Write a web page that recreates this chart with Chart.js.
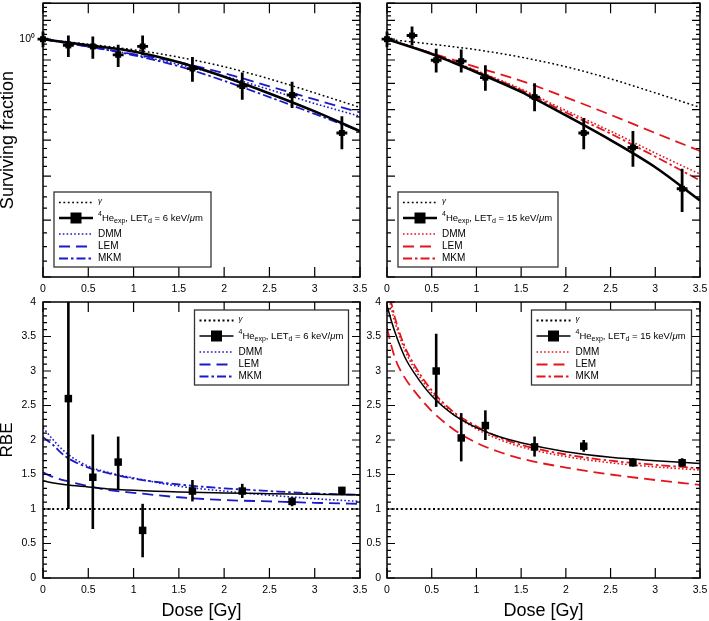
<!DOCTYPE html>
<html>
<head>
<meta charset="utf-8">
<script src="https://cdn.jsdelivr.net/npm/chart.js@4.4.1/dist/chart.umd.min.js"></script>
<style>
  html, body { margin: 0; padding: 0; background: #fff; }
  #wrap { position: relative; width: 709px; height: 621px; overflow: hidden; }
  canvas { position: absolute; }
</style>
</head>
<body>
<div id="wrap">
  <canvas id="sf6" width="372" height="300" style="left:0;top:-1px"></canvas>
  <canvas id="sf15" width="344" height="300" style="left:365px;top:-1px"></canvas>
  <canvas id="rbe6" width="372" height="331" style="left:0;top:290px"></canvas>
  <canvas id="rbe15" width="344" height="331" style="left:365px;top:290px"></canvas>
</div>
<script>
// ---- measured survival (top panels) ----
const doseExp = [0, 0.28, 0.55, 0.83, 1.1, 1.65, 2.2, 2.75, 3.3];
const doseErr = [0.06, 0.06, 0.06, 0.06, 0.06, 0.06, 0.06, 0.06, 0.06];
const sfExp6 = [1.0, 0.969, 0.964, 0.924, 0.964, 0.862, 0.789, 0.754, 0.622];
const sfLo6 = [0.96, 0.914, 0.906, 0.869, 0.922, 0.806, 0.736, 0.706, 0.573];
const sfHi6 = [1.04, 1.019, 1.014, 0.972, 1.019, 0.914, 0.845, 0.806, 0.677];
const sfExp15 = [1.0, 1.019, 0.899, 0.895, 0.823, 0.746, 0.622, 0.578, 0.469];
const sfLo15 = [0.96, 0.969, 0.845, 0.845, 0.770, 0.694, 0.573, 0.524, 0.417];
const sfHi15 = [1.04, 1.067, 0.953, 0.949, 0.877, 0.800, 0.671, 0.628, 0.519];

// ---- survival curves ----
const sfDose = [0, 0.5, 1, 1.5, 2, 2.5, 3, 3.5];
const sfGamma = [1, 0.975, 0.948, 0.913, 0.87, 0.818, 0.762, 0.708];
const sfFit6 = [1, 0.97, 0.94, 0.89, 0.827, 0.76, 0.694, 0.628];
const sfDMM6 = [1, 0.965, 0.925, 0.88, 0.83, 0.775, 0.722, 0.677];
const sfLEM6 = [1, 0.964, 0.927, 0.89, 0.842, 0.788, 0.737, 0.69];
const sfMKM6 = [1, 0.963, 0.922, 0.872, 0.81, 0.746, 0.685, 0.628];
const sfFit15 = [1, 0.928, 0.846, 0.766, 0.68, 0.60, 0.523, 0.442];
const sfDMM15 = [1, 0.93, 0.853, 0.777, 0.697, 0.628, 0.562, 0.505];
const sfLEM15 = [1, 0.932, 0.868, 0.81, 0.745, 0.682, 0.622, 0.568];
const sfMKM15 = [1, 0.93, 0.851, 0.773, 0.69, 0.62, 0.552, 0.489];

// ---- measured RBE (bottom panels) ----
const rbeDoseExp6 = [0.28, 0.55, 0.83, 1.1, 1.65, 2.2, 2.75, 3.3];
const rbeExp6 = [2.6, 1.46, 1.68, 0.69, 1.26, 1.26, 1.11, 1.27];
const rbeLo6 = [1.0, 0.71, 1.28, 0.30, 1.11, 1.16, 1.04, 1.22];
const rbeHi6 = [4.3, 2.08, 2.05, 1.075, 1.42, 1.365, 1.17, 1.32];
const rbeDoseExp15 = [0.55, 0.83, 1.1, 1.65, 2.2, 2.75, 3.3];
const rbeExp15 = [3.0, 2.03, 2.21, 1.9, 1.91, 1.67, 1.67];
const rbeLo15 = [2.48, 1.69, 2.0, 1.76, 1.83, 1.615, 1.615];
const rbeHi15 = [3.54, 2.39, 2.43, 2.05, 2.0, 1.736, 1.736];

// ---- RBE curves ----
const rbeGammaDose = [0, 3.5];
const rbeGamma = [1, 1];
const rbeDose6 = [0, 0.1, 0.25, 0.5, 0.75, 1, 1.5, 2, 2.5, 3, 3.5];
const rbeFit6 = [1.41, 1.38, 1.35, 1.32, 1.29, 1.27, 1.245, 1.232, 1.222, 1.213, 1.205];
const rbeDMM6 = [2.18, 2.02, 1.82, 1.62, 1.52, 1.45, 1.33, 1.26, 1.2, 1.15, 1.11];
const rbeLEM6 = [1.53, 1.47, 1.41, 1.33, 1.27, 1.235, 1.17, 1.13, 1.11, 1.09, 1.075];
const rbeMKM6 = [2.04, 1.94, 1.76, 1.6, 1.51, 1.44, 1.355, 1.3, 1.26, 1.225, 1.205];
const rbeDose15 = [0, 0.05, 0.1, 0.2, 0.3, 0.5, 0.75, 1, 1.25, 1.5, 2, 2.5, 3, 3.5];
const rbeFit15 = [3.95, 3.72, 3.52, 3.2, 2.98, 2.64, 2.36, 2.18, 2.05, 1.96, 1.83, 1.75, 1.7, 1.66];
const rbeDMM15 = [4.2, 3.9, 3.66, 3.3, 3.05, 2.68, 2.37, 2.16, 2.01, 1.9, 1.76, 1.67, 1.61, 1.565];
const rbeLEM15 = [3.62, 3.36, 3.15, 2.9, 2.72, 2.42, 2.15, 1.96, 1.83, 1.73, 1.6, 1.5, 1.42, 1.35];
const rbeMKM15 = [4.3, 3.98, 3.72, 3.35, 3.1, 2.72, 2.4, 2.2, 2.04, 1.93, 1.79, 1.7, 1.64, 1.59];

// axis ticks
const doseTicks = [0, 0.5, 1, 1.5, 2, 2.5, 3, 3.5];
const logTicks = [];
for (let k = 12; k <= 48; k++) logTicks.push({ v: k * 0.025, major: k % 4 === 0 });
const rbeTicks = [];
for (let k = 0; k <= 40; k++) rbeTicks.push({ v: k / 10, major: k % 5 === 0 });

const FONT = "'Liberation Sans', Arial, Helvetica, sans-serif";
const BLUE = '#1a1ac8';
const RED = '#e4141c';
Chart.defaults.font.family = FONT;
Chart.defaults.color = '#000';
Chart.defaults.animation = false;

const pts = (xs, ys) => xs.map((x, i) => ({ x: x, y: ys[i] }));
const plainNum = v => String(+Number(v).toFixed(2));

function heLabel(letd) {
  return [
    { t: '4', s: 'sup' }, { t: 'He' }, { t: 'exp', s: 'sub' }, { t: ', LET' },
    { t: 'd', s: 'sub' }, { t: ' = ' + letd + ' keV/' }, { t: 'μ', i: true }, { t: 'm' }
  ];
}

// inward tick marks + frame
const inTicks = {
  id: 'inTicks',
  afterDraw(chart, args, o) {
    const { ctx, chartArea: a, scales: { x, y } } = chart;
    ctx.save();
    ctx.strokeStyle = '#000';
    ctx.lineWidth = 1.2;
    ctx.beginPath();
    doseTicks.forEach(v => {
      const p = x.getPixelForValue(v);
      ctx.moveTo(p, a.bottom); ctx.lineTo(p, a.bottom - 10);
      ctx.moveTo(p, a.top); ctx.lineTo(p, a.top + 10);
    });
    o.yTicks.forEach(t => {
      const p = y.getPixelForValue(t.v);
      const len = t.major ? 8 : 4;
      ctx.moveTo(a.left, p); ctx.lineTo(a.left + len, p);
      ctx.moveTo(a.right, p); ctx.lineTo(a.right - len, p);
    });
    ctx.stroke();
    ctx.lineWidth = 1.5;
    ctx.strokeRect(a.left, a.top, a.right - a.left, a.bottom - a.top);
    ctx.restore();
  }
};

// vertical (and short horizontal) error bars
const errBars = {
  id: 'errBars',
  afterDatasetsDraw(chart) {
    const { ctx, chartArea: a, scales: { x, y } } = chart;
    ctx.save();
    ctx.beginPath();
    ctx.rect(a.left - 10, a.top, a.right - a.left + 20, a.bottom - a.top);
    ctx.clip();
    ctx.strokeStyle = '#000';
    chart.data.datasets.forEach(ds => {
      if (!ds.errLo) return;
      ctx.lineWidth = ds.errWidth;
      ds.data.forEach((p, i) => {
        const px = x.getPixelForValue(p.x);
        ctx.beginPath();
        ctx.moveTo(px, y.getPixelForValue(ds.errLo[i]));
        ctx.lineTo(px, y.getPixelForValue(ds.errHi[i]));
        if (ds.xErr) {
          const py = y.getPixelForValue(p.y);
          ctx.moveTo(x.getPixelForValue(p.x - ds.xErr[i]), py);
          ctx.lineTo(x.getPixelForValue(p.x + ds.xErr[i]), py);
        }
        ctx.stroke();
      });
    });
    ctx.restore();
  }
};

function drawParts(ctx, parts, x, y) {
  parts.forEach(p => {
    const sz = p.s ? 7 : 9.5;
    ctx.font = (p.i ? 'italic ' : '') + sz + 'px ' + FONT;
    const dy = p.s === 'sub' ? 3.5 : (p.s === 'sup' ? -4 : 0);
    ctx.fillText(p.t, x, y + dy);
    x += ctx.measureText(p.t).width;
  });
}

// boxed legend inside the plot area
const legendBox = {
  id: 'legendBox',
  afterDraw(chart, args, o) {
    const { ctx, chartArea: a } = chart;
    const x0 = o.side === 'left' ? a.left + o.gx : a.right - o.gx - o.w;
    const y0 = o.vert === 'top' ? a.top + o.gy : a.bottom - o.gy - o.h;
    const rows = [10.5, 26, 42, 54.5, 66.5];
    ctx.save();
    ctx.fillStyle = '#fff';
    ctx.fillRect(x0, y0, o.w, o.h);
    ctx.strokeStyle = '#333';
    ctx.lineWidth = 1.3;
    ctx.strokeRect(x0, y0, o.w, o.h);
    ctx.textBaseline = 'middle';
    chart.data.datasets.filter(d => d.row !== undefined).forEach(d => {
      const yy = y0 + rows[d.row];
      ctx.strokeStyle = d.borderColor;
      ctx.lineWidth = d.borderWidth;
      ctx.setLineDash(d.borderDash || []);
      ctx.beginPath();
      ctx.moveTo(x0 + 5, yy); ctx.lineTo(x0 + 39, yy);
      ctx.stroke();
      ctx.setLineDash([]);
      if (d.legendMark) {
        ctx.fillStyle = '#000';
        ctx.fillRect(x0 + 22 - 5.5, yy - 5.5, 11, 11);
      }
      ctx.fillStyle = '#000';
      if (d.rich) {
        drawParts(ctx, d.rich, x0 + 44, yy);
      } else if (d.row === 0) {
        ctx.font = 'italic 8px ' + FONT;
        ctx.fillText(d.label, x0 + 44, yy - 1.5);
      } else {
        ctx.font = '10px ' + FONT;
        ctx.fillText(d.label, x0 + 44, yy);
      }
    });
    ctx.restore();
  }
};

function makeDatasets(o) {
  const curve = { pointRadius: 0, showLine: true, fill: false, cubicInterpolationMode: 'monotone', borderCapStyle: 'butt' };
  return [
    { label: 'exp', data: pts(o.px, o.py), errLo: o.lo, errHi: o.hi, xErr: o.xErr, errWidth: o.errW,
      showLine: false, pointStyle: 'rect', pointRadius: o.mark, pointBorderWidth: 0,
      pointBackgroundColor: '#000', backgroundColor: '#000', borderColor: '#000', clip: 8, order: 0 },
    Object.assign({ label: 'γ', row: 0, data: pts(o.gDose, o.gVal), borderColor: '#000',
      borderWidth: o.gW, borderDash: o.gDash, order: 5 }, curve),
    Object.assign({ label: '4He', rich: heLabel(o.letd), row: 1, legendMark: true,
      data: pts(o.cDose, o.fit), borderColor: '#000', borderWidth: o.fitW, order: 1 }, curve),
    Object.assign({ label: 'DMM', row: 2, data: pts(o.cDose, o.dmm), borderColor: o.color,
      borderWidth: 1.6, borderDash: [1.6, 2.2], order: 2 }, curve),
    Object.assign({ label: 'LEM', row: 3, data: pts(o.cDose, o.lem), borderColor: o.color,
      borderWidth: 1.8, borderDash: [11, 6], order: 3 }, curve),
    Object.assign({ label: 'MKM', row: 4, data: pts(o.cDose, o.mkm), borderColor: o.color,
      borderWidth: 1.8, borderDash: [9, 3, 2.5, 3], order: 4 }, curve)
  ];
}

function xScale(hasTitle, h) {
  return {
    type: 'linear', min: 0, max: 3.5,
    grid: { display: false, drawTicks: false }, border: { display: false },
    ticks: { stepSize: 0.5, padding: 6, font: { size: 10.5 }, maxRotation: 0, autoSkip: false, callback: plainNum },
    title: { display: hasTitle, text: 'Dose [Gy]', font: { size: 18, lineHeight: 1 }, padding: { top: 0, bottom: 1 } },
    afterFit: s => { s.height = h; s.paddingLeft = 0; s.paddingRight = 0; }
  };
}

function makeChart(id, o) {
  new Chart(document.getElementById(id), {
    type: 'line',
    data: { datasets: makeDatasets(o) },
    options: {
      responsive: false,
      animation: false,
      layout: { padding: o.pad },
      scales: { x: xScale(o.xTitle, o.xh), y: o.y },
      plugins: {
        legend: { display: false },
        tooltip: { enabled: false },
        inTicks: { yTicks: o.yTicks },
        legendBox: o.legend
      }
    },
    plugins: [inTicks, errBars, legendBox]
  });
}

function logY(showLabel, w) {
  return {
    type: 'logarithmic', min: 0.3, max: 1.2, bounds: 'data',
    grid: { display: false, drawTicks: false }, border: { display: false },
    afterBuildTicks: s => { s.ticks = [{ value: 1 }]; },
    ticks: { display: showLabel, callback: () => '10⁰', padding: 8, font: { size: 10.5 } },
    title: { display: showLabel, text: 'Surviving fraction', font: { size: 18, lineHeight: 0.9 }, padding: { top: 0, bottom: 0 } },
    afterFit: s => { s.width = w; s.paddingTop = 0; s.paddingBottom = 0; }
  };
}

function rbeY(showTitle, w, pad) {
  return {
    type: 'linear', min: 0, max: 4,
    grid: { display: false, drawTicks: false }, border: { display: false },
    ticks: { stepSize: 0.5, padding: pad, font: { size: 10.5 }, callback: plainNum },
    title: { display: showTitle, text: 'RBE', font: { size: 17, lineHeight: 0.9 }, padding: { top: 0, bottom: 0 } },
    afterFit: s => { s.width = w; s.paddingTop = 0; s.paddingBottom = 0; }
  };
}

makeChart('sf6', {
  px: doseExp, py: sfExp6, lo: sfLo6, hi: sfHi6, xErr: doseErr, errW: 2.8, mark: 4.2,
  gDose: sfDose, gVal: sfGamma, gW: 1.5, gDash: [1.8, 2.6],
  cDose: sfDose, fit: sfFit6, dmm: sfDMM6, lem: sfLEM6, mkm: sfMKM6, fitW: 2.6, color: BLUE, letd: 6,
  pad: { top: 0, right: 12, bottom: 0, left: 0 }, xTitle: false, xh: 22, y: logY(true, 43), yTicks: logTicks,
  legend: { side: 'left', vert: 'bottom', gx: 11, gy: 10, w: 157, h: 75 }
});

makeChart('sf15', {
  px: doseExp, py: sfExp15, lo: sfLo15, hi: sfHi15, xErr: doseErr, errW: 2.8, mark: 4.2,
  gDose: sfDose, gVal: sfGamma, gW: 1.5, gDash: [1.8, 2.6],
  cDose: sfDose, fit: sfFit15, dmm: sfDMM15, lem: sfLEM15, mkm: sfMKM15, fitW: 2.6, color: RED, letd: 15,
  pad: { top: 0, right: 9, bottom: 0, left: 0 }, xTitle: false, xh: 22, y: logY(false, 22), yTicks: logTicks,
  legend: { side: 'left', vert: 'bottom', gx: 11, gy: 10, w: 160, h: 75 }
});

makeChart('rbe6', {
  px: rbeDoseExp6, py: rbeExp6, lo: rbeLo6, hi: rbeHi6, xErr: null, errW: 2.6, mark: 5.3,
  gDose: rbeGammaDose, gVal: rbeGamma, gW: 2, gDash: [2, 2.6],
  cDose: rbeDose6, fit: rbeFit6, dmm: rbeDMM6, lem: rbeLEM6, mkm: rbeMKM6, fitW: 1.5, color: BLUE, letd: 6,
  pad: { top: 12, right: 12, bottom: 0, left: 0 }, xTitle: true, xh: 43, y: rbeY(true, 43, 7), yTicks: rbeTicks,
  legend: { side: 'right', vert: 'top', gx: 11.5, gy: 8, w: 154, h: 75 }
});

makeChart('rbe15', {
  px: rbeDoseExp15, py: rbeExp15, lo: rbeLo15, hi: rbeHi15, xErr: null, errW: 2.6, mark: 5.3,
  gDose: rbeGammaDose, gVal: rbeGamma, gW: 2, gDash: [2, 2.6],
  cDose: rbeDose15, fit: rbeFit15, dmm: rbeDMM15, lem: rbeLEM15, mkm: rbeMKM15, fitW: 1.5, color: RED, letd: 15,
  pad: { top: 12, right: 9, bottom: 0, left: 0 }, xTitle: true, xh: 43, y: rbeY(false, 22, 6), yTicks: rbeTicks,
  legend: { side: 'right', vert: 'top', gx: 8.5, gy: 8, w: 160, h: 75 }
});
</script>
</body>
</html>
